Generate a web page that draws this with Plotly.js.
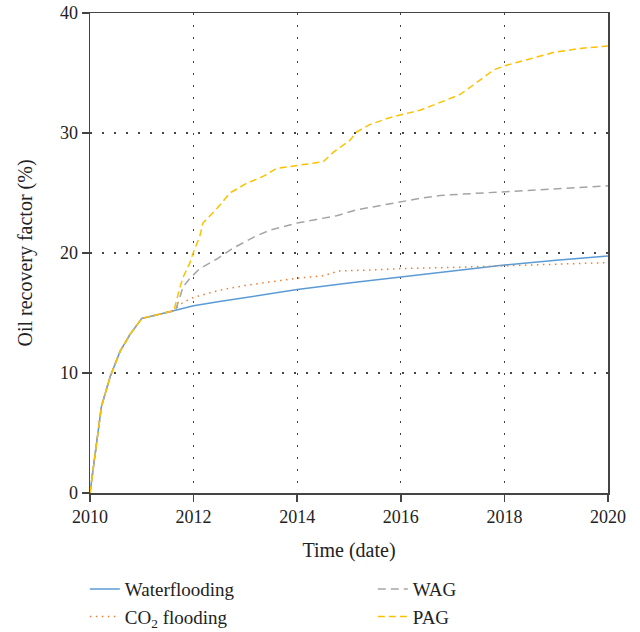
<!DOCTYPE html>
<html><head><meta charset="utf-8">
<script src="https://cdn.plot.ly/plotly-3.0.1.min.js"></script>
<style>body{margin:0;background:#fff}#chart{width:640px;height:632px}</style>
</head><body><div id="chart"></div>
<script>
const waterX = [2010, 2010.05, 2010.13, 2010.22, 2010.39, 2010.58, 2010.77, 2011.0, 2011.3, 2011.6, 2012, 2012.5, 2013, 2014, 2015, 2016, 2017, 2018, 2019, 2020];
const waterY = [0, 1.6, 4.4, 7.2, 9.7, 11.8, 13.2, 14.55, 14.85, 15.15, 15.6, 15.95, 16.3, 16.95, 17.5, 18.0, 18.5, 19.0, 19.4, 19.75];

const co2X = [2010, 2010.05, 2010.13, 2010.22, 2010.39, 2010.58, 2010.77, 2011.0, 2011.3, 2011.6, 2011.8, 2012, 2012.5, 2013, 2013.5, 2014, 2014.5, 2014.8, 2015.5, 2016, 2017, 2018, 2019, 2020];
const co2Y = [0, 1.6, 4.4, 7.2, 9.7, 11.8, 13.2, 14.55, 14.85, 15.2, 15.9, 16.3, 16.9, 17.3, 17.6, 17.9, 18.1, 18.5, 18.6, 18.7, 18.8, 18.95, 19.05, 19.2];

const wagX = [2010, 2010.05, 2010.13, 2010.22, 2010.39, 2010.58, 2010.77, 2011.0, 2011.3, 2011.65, 2011.8, 2011.93, 2012.12, 2012.45, 2012.76, 2013.02, 2013.2, 2013.47, 2013.73, 2014, 2014.37, 2014.76, 2015.15, 2015.53, 2015.95, 2016.37, 2016.76, 2017.53, 2018, 2018.8, 2020];
const wagY = [0, 1.6, 4.4, 7.2, 9.7, 11.8, 13.2, 14.55, 14.85, 15.2, 17.2, 17.9, 18.7, 19.5, 20.4, 20.95, 21.4, 21.9, 22.2, 22.5, 22.8, 23.1, 23.6, 23.9, 24.2, 24.55, 24.8, 25.0, 25.1, 25.3, 25.6];

const pagX = [2010, 2010.05, 2010.13, 2010.22, 2010.39, 2010.58, 2010.77, 2011.0, 2011.3, 2011.62, 2011.74, 2011.8, 2011.93, 2012.0, 2012.12, 2012.18, 2012.45, 2012.7, 2013.02, 2013.35, 2013.6, 2014, 2014.5, 2014.7, 2015.02, 2015.15, 2015.4, 2015.8, 2016.37, 2016.76, 2017.14, 2017.4, 2017.79, 2018, 2018.43, 2018.94, 2019.46, 2020];
const pagY = [0, 1.6, 4.4, 7.2, 9.7, 11.8, 13.2, 14.55, 14.85, 15.2, 17.2, 18.0, 19.2, 20.1, 21.4, 22.5, 23.7, 25.0, 25.8, 26.4, 27.05, 27.3, 27.6, 28.4, 29.4, 30.1, 30.7, 31.3, 31.9, 32.55, 33.2, 34.0, 35.25, 35.6, 36.1, 36.7, 37.05, 37.25];

const seriesNames = ['Waterflooding', 'CO<sub>2</sub> flooding', 'WAG', 'PAG'];
const xTicks = [2010, 2012, 2014, 2016, 2018, 2020];
const yTicks = [0, 10, 20, 30, 40];

const FONT = 'Liberation Serif, Times New Roman, serif';
const traces = [
  {x: waterX, y: waterY, name: seriesNames[0], legend: 'legend', mode: 'lines', line: {color: '#5B9BD5', width: 1.5}},
  {x: co2X, y: co2Y, name: seriesNames[1], legend: 'legend', mode: 'lines', line: {color: '#ED7D31', width: 1.5, dash: '1.5px,4.5px'}},
  {x: wagX, y: wagY, name: seriesNames[2], legend: 'legend2', mode: 'lines', line: {color: '#A5A5A5', width: 1.5, dash: '8px,5px'}},
  {x: pagX, y: pagY, name: seriesNames[3], legend: 'legend2', mode: 'lines', line: {color: '#FFC000', width: 1.5, dash: '7px,4px'}}
];

const legendCommon = {orientation: 'v', xref: 'paper', xanchor: 'left',
  yref: 'container', y: 0.098, yanchor: 'top', bgcolor: 'rgba(0,0,0,0)',
  font: {family: FONT, size: 19, color: '#222'}, tracegroupgap: 0, itemwidth: 30, traceorder: 'normal'};

const layout = {
  width: 640, height: 632,
  margin: {l: 90, r: 32, t: 13, b: 139},
  paper_bgcolor: '#fff', plot_bgcolor: '#fff',
  font: {family: FONT, size: 18, color: '#222'},
  showlegend: true,
  legend: Object.assign({}, legendCommon, {x: -0.01}),
  legend2: Object.assign({}, legendCommon, {x: 0.546}),
  xaxis: {range: [2010, 2020], tickvals: xTicks, ticktext: xTicks.map(String),
          showline: true, linecolor: '#444', linewidth: 1.5, mirror: true,
          ticks: 'outside', ticklen: 7, tickcolor: '#444', tickwidth: 1.5,
          showgrid: true, gridcolor: '#444', gridwidth: 1.2, griddash: '1.5px,10.5px',
          zeroline: false, tickfont: {size: 18},
          title: {text: 'Time (date)', font: {size: 20}, standoff: 17}},
  yaxis: {range: [0, 40], tickvals: yTicks,
          showline: true, linecolor: '#444', linewidth: 1.5, mirror: true,
          ticks: 'outside', ticklen: 7, tickcolor: '#444', tickwidth: 1.5,
          showgrid: true, gridcolor: '#444', gridwidth: 1.2, griddash: '1.5px,10.5px',
          zeroline: false, tickfont: {size: 18},
          title: {text: 'Oil recovery factor (%)', font: {size: 20}, standoff: 22}}
};
Plotly.newPlot('chart', traces, layout, {displayModeBar: false, staticPlot: true});
</script></body></html>
